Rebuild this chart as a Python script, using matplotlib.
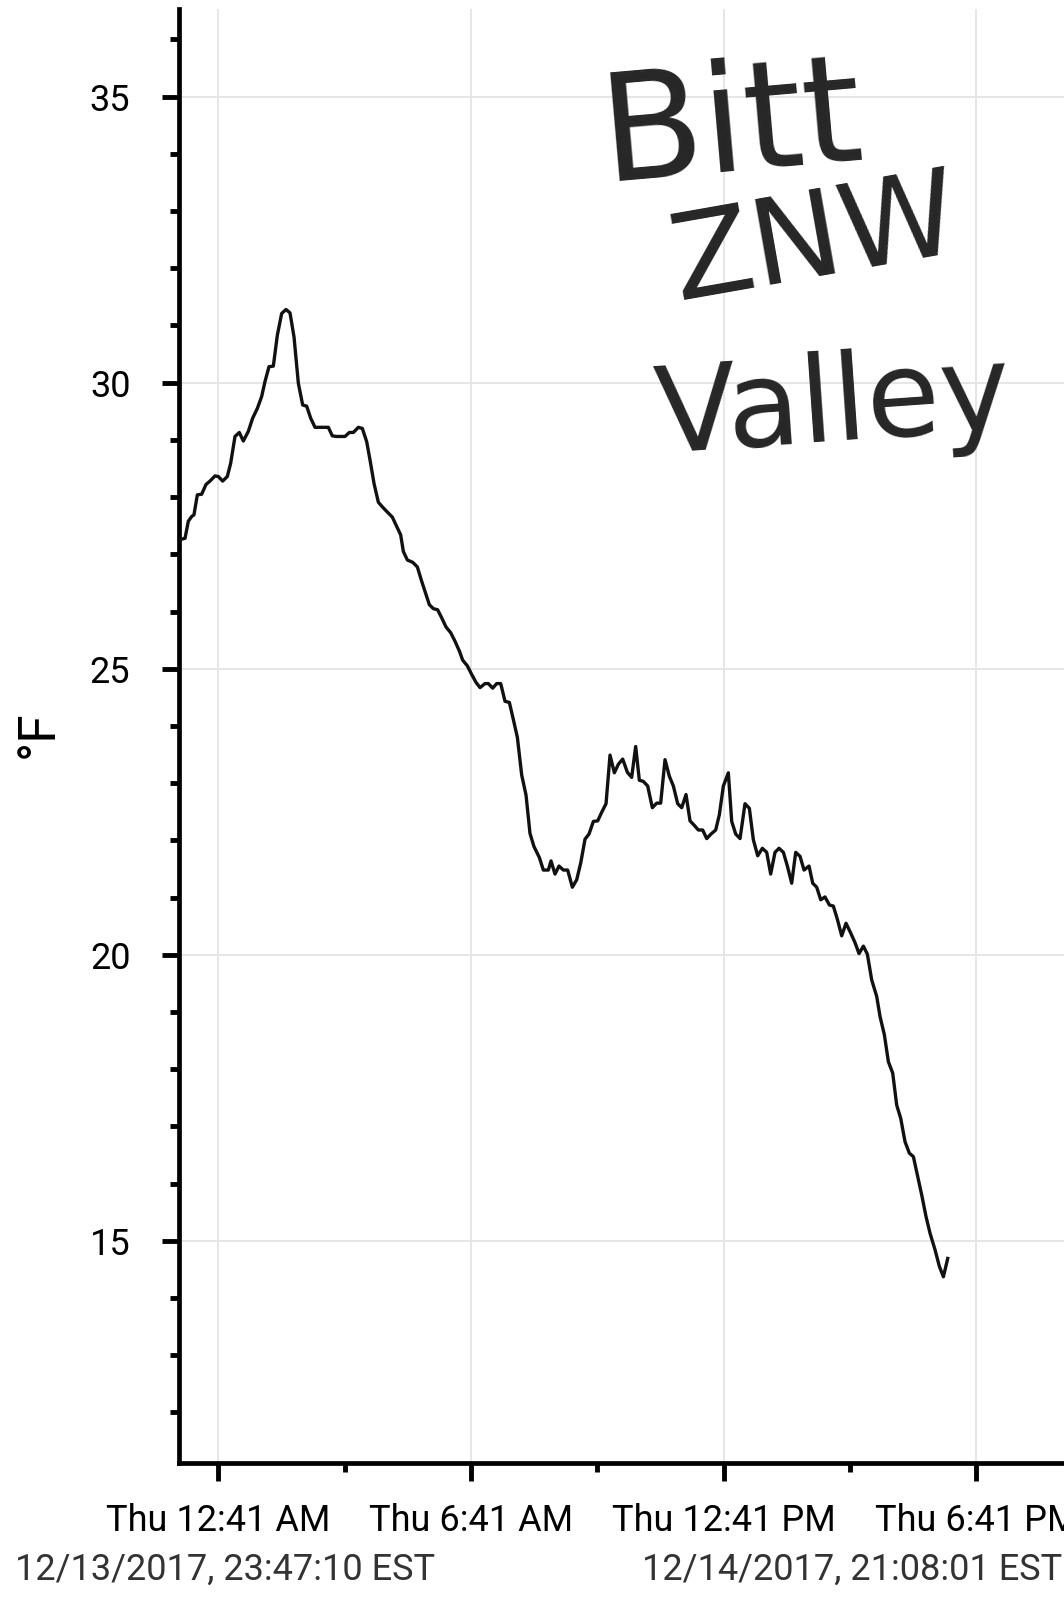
import numpy as np
import matplotlib.pyplot as plt

plt.rcParams["font.family"] = ["Roboto", "DejaVu Sans"]
plt.rcParams["figure.dpi"] = 100

# temperature trace, hours after midnight 12/14/2017 (EST)
hours = [
    -0.215, -0.112, -0.033, 0.046, 0.101, 0.181, 0.284, 0.386, 0.481, 0.600,
    0.679, 0.782, 0.893, 0.972, 1.075, 1.178, 1.273, 1.392, 1.495, 1.606,
    1.709, 1.788, 1.883, 1.986, 2.081, 2.184, 2.287, 2.382, 2.477, 2.580,
    2.683, 2.778, 2.873, 2.976, 3.094, 3.292, 3.387, 3.490, 3.688, 3.791,
    3.886, 4.005, 4.100, 4.203, 4.282, 4.377, 4.480, 4.599, 4.717, 4.812,
    4.915, 5.010, 5.074, 5.169, 5.296, 5.406, 5.509, 5.588, 5.691, 5.786,
    5.889, 5.984, 6.087, 6.198, 6.301, 6.404, 6.483, 6.594, 6.697, 6.800,
    6.895, 7.014, 7.093, 7.196, 7.291, 7.386, 7.489, 7.592, 7.687, 7.782,
    7.885, 7.988, 8.082, 8.177, 8.304, 8.399, 8.518, 8.581, 8.676, 8.771,
    8.874, 8.977, 9.088, 9.191, 9.286, 9.389, 9.484, 9.587, 9.690, 9.785,
    9.888, 9.983, 10.086, 10.181, 10.284, 10.394, 10.497, 10.592, 10.679, 10.774,
    10.877, 10.988, 11.091, 11.186, 11.289, 11.392, 11.487, 11.590, 11.685, 11.788,
    11.883, 11.986, 12.081, 12.184, 12.279, 12.382, 12.493, 12.580, 12.675, 12.793,
    12.873, 12.968, 13.071, 13.189, 13.292, 13.387, 13.490, 13.601, 13.704, 13.799,
    13.902, 13.997, 14.100, 14.195, 14.298, 14.393, 14.496, 14.591, 14.710, 14.797,
    14.892, 14.987, 15.089, 15.192, 15.287, 15.382, 15.486, 15.588, 15.699, 15.802,
    15.897, 16.000, 16.095, 16.198, 16.317, 16.396, 16.499, 16.594, 16.697, 16.792,
    16.887, 16.990, 17.093, 17.188, 17.283, 17.386, 17.489, 17.584, 17.703, 17.806,
    17.901, 18.004,
]
temps_f = [
    27.26, 27.28, 27.58, 27.66, 27.69, 28.04, 28.05, 28.22, 28.28, 28.37,
    28.36, 28.28, 28.36, 28.59, 29.06, 29.13, 28.98, 29.15, 29.38, 29.55,
    29.76, 30.02, 30.28, 30.29, 30.83, 31.21, 31.28, 31.22, 30.80, 29.99,
    29.61, 29.59, 29.38, 29.22, 29.22, 29.22, 29.07, 29.06, 29.06, 29.13,
    29.13, 29.22, 29.20, 28.97, 28.65, 28.24, 27.91, 27.81, 27.72, 27.65,
    27.49, 27.34, 27.05, 26.90, 26.86, 26.78, 26.53, 26.35, 26.12, 26.05,
    26.03, 25.89, 25.73, 25.63, 25.48, 25.31, 25.15, 25.05, 24.90, 24.76,
    24.67, 24.74, 24.74, 24.66, 24.74, 24.74, 24.43, 24.41, 24.11, 23.80,
    23.14, 22.79, 22.12, 21.89, 21.70, 21.48, 21.48, 21.64, 21.41, 21.55,
    21.48, 21.48, 21.18, 21.31, 21.60, 22.02, 22.11, 22.33, 22.34, 22.49,
    22.64, 23.49, 23.18, 23.33, 23.42, 23.19, 23.10, 23.64, 23.05, 23.03,
    22.95, 22.57, 22.65, 22.65, 23.41, 23.12, 22.95, 22.64, 22.57, 22.80,
    22.34, 22.26, 22.18, 22.18, 22.03, 22.11, 22.18, 22.45, 22.95, 23.18,
    22.33, 22.11, 22.03, 22.64, 22.56, 22.01, 21.73, 21.86, 21.79, 21.41,
    21.79, 21.86, 21.79, 21.55, 21.25, 21.79, 21.72, 21.48, 21.55, 21.25,
    21.18, 20.96, 21.01, 20.87, 20.85, 20.62, 20.33, 20.55, 20.38, 20.21,
    20.02, 20.15, 20.01, 19.56, 19.27, 18.92, 18.60, 18.13, 17.93, 17.37,
    17.14, 16.73, 16.53, 16.47, 16.15, 15.80, 15.42, 15.13, 14.84, 14.55,
    14.37, 14.69,
]

major_ticks = ["2017-12-14T00:41", "2017-12-14T06:41", "2017-12-14T12:41", "2017-12-14T18:41"]
major_labels = ["Thu 12:41 AM", "Thu 6:41 AM", "Thu 12:41 PM", "Thu 6:41 PM"]
minor_ticks = ["2017-12-14T03:41", "2017-12-14T09:41", "2017-12-14T15:41"]
x_range = ["2017-12-13T23:44:00", "2017-12-14T21:08:01"]
start_label = "12/13/2017, 23:47:10 EST"
end_label = "12/14/2017, 21:08:01 EST"
note_lines = ["Bitt", "ZNW", "Valley"]

base = np.datetime64("2017-12-14T00:00:00")
times = base + (np.array(hours) * 3600).astype("timedelta64[s]")

W, H = 1064, 1609
fig = plt.figure(figsize=(W / 100, H / 100))
ax = fig.add_axes([178.5 / W, 1 - 1463 / H, 901 / W, 1454 / H])

ax.plot(times, temps_f, color="#111111", lw=2.4, zorder=3)

ax.set_xlim(np.datetime64(x_range[0]), np.datetime64(x_range[1]))
ax.set_ylim(11.114, 36.533)
ax.set_xticks(np.array(major_ticks, dtype="datetime64[s]"))
ax.set_xticklabels(major_labels)
ax.set_xticks(np.array(minor_ticks, dtype="datetime64[s]"), minor=True)
ax.set_yticks([15, 20, 25, 30, 35])
ax.set_yticks(np.arange(12, 37), minor=True)

for s in ["top", "right"]:
    ax.spines[s].set_visible(False)
for s in ["left", "bottom"]:
    ax.spines[s].set_linewidth(3.4)
    ax.spines[s].set_color("black")

ax.tick_params(which="major", length=12.6, width=3.5, labelsize=26, colors="black")
ax.tick_params(which="minor", length=6.8, width=3.5)
ax.tick_params(axis="y", which="major", pad=22)
ax.tick_params(axis="x", which="major", pad=16)
ax.grid(True, which="major", color="#e6e6e6", lw=1.4)
ax.set_axisbelow(True)

fig.text(39 / W, 1 - 734 / H, "°F", rotation=90, ha="center", va="center", fontsize=37)
fig.text(15 / W, 1 - 1570 / H, start_label, ha="left", va="center", fontsize=26, color="#333333")
fig.text(1062 / W, 1 - 1570 / H, end_label, ha="right", va="center", fontsize=26, color="#333333")

# handwritten note
hand = dict(ha="center", va="center", color="#262626", family="DejaVu Sans",
            rotation_mode="anchor")
fig.text(731 / W, 1 - 128 / H, note_lines[0], fontsize=108, rotation=5, **hand)
fig.text(815 / W, 1 - 242 / H, note_lines[1], fontsize=86, rotation=10, **hand)
fig.text(833 / W, 1 - 408 / H, note_lines[2], fontsize=86, rotation=4, **hand)

fig.savefig("out.png", dpi=100)
